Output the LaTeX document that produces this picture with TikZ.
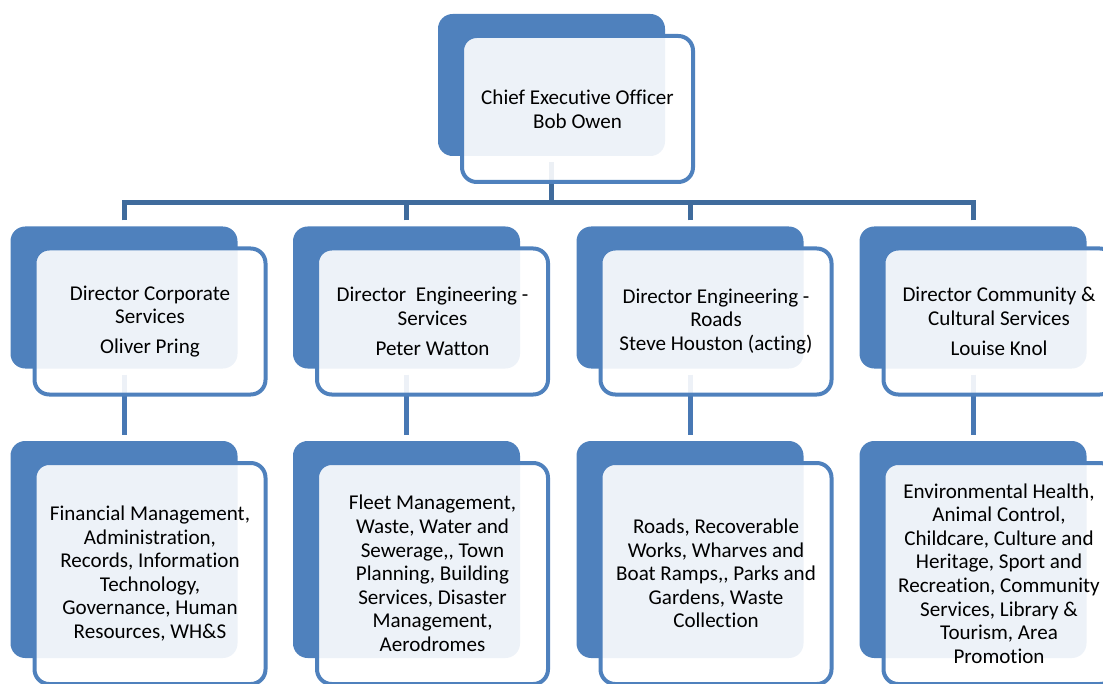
\documentclass[tikz,border=0pt]{standalone}
\usepackage{fontspec}
\setmainfont{Carlito}[Ligatures={TeX,NoCommon}]
\usetikzlibrary{backgrounds}
\definecolor{boxblue}{HTML}{4F81BD}
\definecolor{barblue}{HTML}{3F6B9C}
\definecolor{stemblue}{HTML}{4878B4}
\begin{document}
\begin{tikzpicture}[x=0.75pt, y=-0.75pt,
  back/.style={fill=boxblue, rounded corners=11pt, inner sep=0pt, outer sep=4.5pt,
    minimum width=170.25pt, minimum height=106.5pt},
  backtall/.style={back, minimum height=162.75pt},
  front/.style={draw=boxblue, line width=3pt, fill=white, fill opacity=0.9, text opacity=1,
    rounded corners=11pt, inner sep=0pt, minimum width=173.25pt, minimum height=109.5pt,
    align=center, font=\fontsize{15.8}{17.7}\selectfont},
  fronttall/.style={front, minimum height=165.75pt},
  bar/.style={draw=barblue, line width=3.75pt},
  stem/.style={draw=stemblue, line width=3.75pt}]
\useasboundingbox (0,0) rectangle (1103,684);

% top
\node[back] (ceo) at (551.5,85) {};
\node[front] (ceo-t) at ([shift={(26,24)}]ceo) {Chief Executive Officer\\Bob Owen};

% directors
\node[back] (d1) at (124,297.5) {};
\node[front] (d1-t) at ([shift={(26,24)}]d1) {Director Corporate\\Services\\[5pt]Oliver Pring};
\node[back] (d2) at (406.5,297.5) {};
\node[front] (d2-t) at ([shift={(26,24)}]d2) {Director\ \ Engineering -\\Services\\[5pt]Peter Watton};
\node[back] (d3) at (690,297.5) {};
\node[front] (d3-t) at ([shift={(26,24)}]d3) {Director Engineering -\\Roads\\Steve Houston (acting)};
\node[back] (d4) at (973,297.5) {};
\node[front] (d4-t) at ([shift={(26,24)}]d4) {Director Community \&\\Cultural Services\\[5pt]Louise Knol};

% units
\node[backtall] (u1) at (124,549.5) {};
\node[fronttall] (u1-t) at ([shift={(26,24)}]u1) {Financial Management,\\Administration,\\Records, Information\\Technology,\\Governance, Human\\Resources, WH\&S};
\node[backtall] (u2) at (406.5,549.5) {};
\node[fronttall] (u2-t) at ([shift={(26,24)}]u2) {Fleet Management,\\Waste, Water and\\Sewerage,{}, Town\\Planning, Building\\Services, Disaster\\Management,\\Aerodromes};
\node[backtall] (u3) at (690,549.5) {};
\node[fronttall] (u3-t) at ([shift={(26,24)}]u3) {Roads, Recoverable\\Works, Wharves and\\Boat Ramps,{}, Parks and\\Gardens, Waste\\Collection};
\node[backtall] (u4) at (973,549.5) {};
\node[fronttall] (u4-t) at ([shift={(26,24)}]u4) {Environmental Health,\\Animal Control,\\Childcare, Culture and\\Heritage, Sport and\\Recreation, Community\\Services, Library \&\\Tourism, Area\\Promotion};

% lines behind the boxes
\begin{scope}[on background layer]
\coordinate (bus) at (551.5,202.5);
\draw[bar] (ceo) -- (bus);
\draw[bar] (d1.north) |- (bus);
\draw[bar] (d2.north) |- (bus);
\draw[bar] (d3.north) |- (bus);
\draw[bar] (d4.north) |- (bus);
\draw[stem] (d1) -- (u1);
\draw[stem] (d2) -- (u2);
\draw[stem] (d3) -- (u3);
\draw[stem] (d4) -- (u4);
\end{scope}
\end{tikzpicture}
\end{document}
